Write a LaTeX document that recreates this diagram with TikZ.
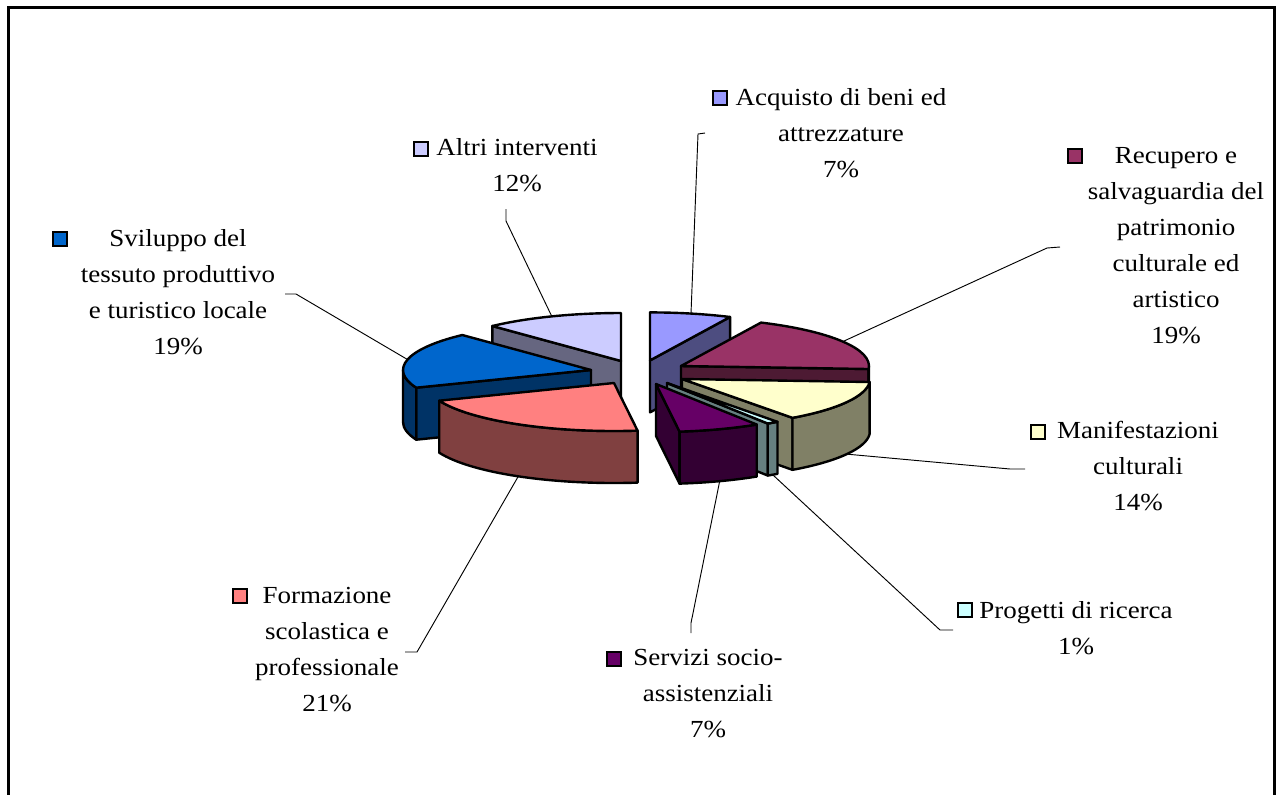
\documentclass[tikz,border=0pt]{standalone}
\usepackage{fontspec}
\setmainfont{Liberation Serif}[FakeStretch=1.1]
\usetikzlibrary{calc}
\definecolor{acqtop}{HTML}{9999FF}\definecolor{acqside}{HTML}{4D4D80}
\definecolor{alttop}{HTML}{CCCCFF}\definecolor{altside}{HTML}{666680}
\definecolor{rectop}{HTML}{993366}\definecolor{recside}{HTML}{4D1A33}
\definecolor{svitop}{HTML}{0066CC}\definecolor{sviside}{HTML}{003366}
\definecolor{mantop}{HTML}{FFFFCC}\definecolor{manside}{HTML}{808066}
\definecolor{protop}{HTML}{CCFFFF}\definecolor{proside}{HTML}{668080}
\definecolor{sertop}{HTML}{660066}\definecolor{serside}{HTML}{330033}
\definecolor{frmtop}{HTML}{FF8080}\definecolor{frmside}{HTML}{804040}
\newcommand{\pietop}[4]{\filldraw[piefill=#4] (#1) -- ++(#2:188 and 48) arc[start angle=#2, end angle=#3, x radius=188, y radius=48] -- cycle;}
\newcommand{\pieface}[3]{\filldraw[piefill=#3] (#1) -- ++(#2:188 and 48) -- ++(0,52) -- ([shift={(0,52)}]#1) -- cycle;}
\newcommand{\pieside}[4]{\filldraw[piefill=#4] ([shift={(#2:188 and 48)}]#1) arc[start angle=#2, end angle=#3, x radius=188, y radius=48] -- ++(0,52) arc[start angle=#3, end angle=#2, x radius=188, y radius=48] -- cycle;}
\begin{document}
\begin{tikzpicture}[
   x=0.75pt, y=-0.75pt,
   frame/.style={draw=black, line width=2.25pt},
   piefill/.style={fill=#1, draw=black, line width=1.8pt, line join=round},
   lbl/.style={align=center, inner sep=0, font=\fontsize{18.4pt}{27pt}\selectfont},
   keybox/.style={draw=black, line width=1.5pt, inner sep=0, minimum size=10.5pt},
   leader/.style={draw=black, line width=0.7pt}
  ]
  \useasboundingbox (0,0) rectangle (1281,794);
  \clip (0,0) rectangle (1281,794);
  \draw[frame] (8,810) -- (8,7) -- (1274,7) -- (1274,810);

  \coordinate (acq) at (650,360.4);
  \coordinate (alt) at (621,361);
  \coordinate (rec) at (681,366);
  \coordinate (svi) at (591,370);
  \coordinate (man) at (682,379);
  \coordinate (pro) at (667,383);
  \coordinate (ser) at (656,384);
  \coordinate (frm) at (614,383);

  \pieface{acq}{-64.8}{acqside} \pietop{acq}{-90}{-64.8}{acqtop}
  \pieface{alt}{226.8}{altside} \pietop{alt}{226.8}{270}{alttop}
  \pieface{rec}{3.6}{recside} \pieside{rec}{0}{3.6}{recside} \pietop{rec}{-64.8}{3.6}{rectop}
  \pieface{svi}{158.4}{sviside} \pieside{svi}{158.4}{180}{sviside} \pietop{svi}{158.4}{226.8}{svitop}
  \pieface{man}{54}{manside} \pieside{man}{3.6}{54}{manside} \pietop{man}{3.6}{54}{mantop}
  \pieface{pro}{57.6}{proside} \pieside{pro}{54}{57.6}{proside} \pietop{pro}{54}{57.6}{protop}
  \pieface{ser}{82.8}{serside} \pieside{ser}{57.6}{82.8}{serside} \pietop{ser}{57.6}{82.8}{sertop}
  \pieside{frm}{82.8}{158.4}{frmside} \pietop{frm}{82.8}{158.4}{frmtop}

  \node[lbl] (acq-lbl) at (841,133) {Acquisto di beni ed\\attrezzature\\7\%};
  \node[lbl] (alt-lbl) at (517,165) {Altri interventi\\12\%};
  \node[lbl] (svi-lbl) at (178,292) {Sviluppo del\\tessuto produttivo\\e turistico locale\\19\%};
  \node[lbl] (rec-lbl) at (1176,246) {Recupero e\\salvaguardia del\\patrimonio\\culturale ed\\artistico\\19\%};
  \node[lbl] (man-lbl) at (1138,466) {Manifestazioni\\culturali\\14\%};
  \node[lbl] (pro-lbl) at (1076,628) {Progetti di ricerca\\1\%};
  \node[lbl] (ser-lbl) at (708,694) {Servizi socio-\\assistenziali\\7\%};
  \node[lbl] (frm-lbl) at (327,650) {Formazione\\scolastica e\\professionale\\21\%};

  \node[keybox, fill=acqtop] (acq-key) at (719.5,97.5) {};
  \node[keybox, fill=alttop] (alt-key) at (421,149) {};
  \node[keybox, fill=svitop] (svi-key) at (60,239) {};
  \node[keybox, fill=rectop] (rec-key) at (1075,155.5) {};
  \node[keybox, fill=mantop] (man-key) at (1038,432) {};
  \node[keybox, fill=protop] (pro-key) at (965,610) {};
  \node[keybox, fill=sertop] (ser-key) at (614,659) {};
  \node[keybox, fill=frmtop] (frm-key) at (239.5,595.5) {};

  \coordinate (acq-rim) at ($(acq)+(-77.4:188 and 48)$);
  \coordinate (alt-rim) at ($(alt)+(248.4:188 and 48)$);
  \coordinate (rec-rim) at ($(rec)+(-30.6:188 and 48)$);
  \coordinate (svi-rim) at ($(svi)+(192.6:188 and 48)$);
  \coordinate (man-rim) at ($(man)+(28.8:188 and 48)+(0,52)$);
  \coordinate (pro-rim) at ($(pro)+(55.8:188 and 48)+(0,52)$);
  \coordinate (ser-rim) at ($(ser)+(70.2:188 and 48)+(0,52)$);
  \coordinate (frm-rim) at ($(frm)+(120.6:188 and 48)+(0,52)$);

  \draw[leader] (acq-rim) -- (698,134) -- (705,133);
  \draw[leader] (alt-rim) -- (506,221) -- (506,209);
  \draw[leader] (svi-rim) -- (296,294) -- (285,294);
  \draw[leader] (rec-rim) -- (1047,248) -- (1060,247);
  \draw[leader] (man-rim) -- (1010,469) -- (1025,469);
  \draw[leader] (pro-rim) -- (940,630) -- (953,630);
  \draw[leader] (ser-rim) -- (691,623) -- (691,633);
  \draw[leader] (frm-rim) -- (417,652) -- (405,652);
\end{tikzpicture}
\end{document}
